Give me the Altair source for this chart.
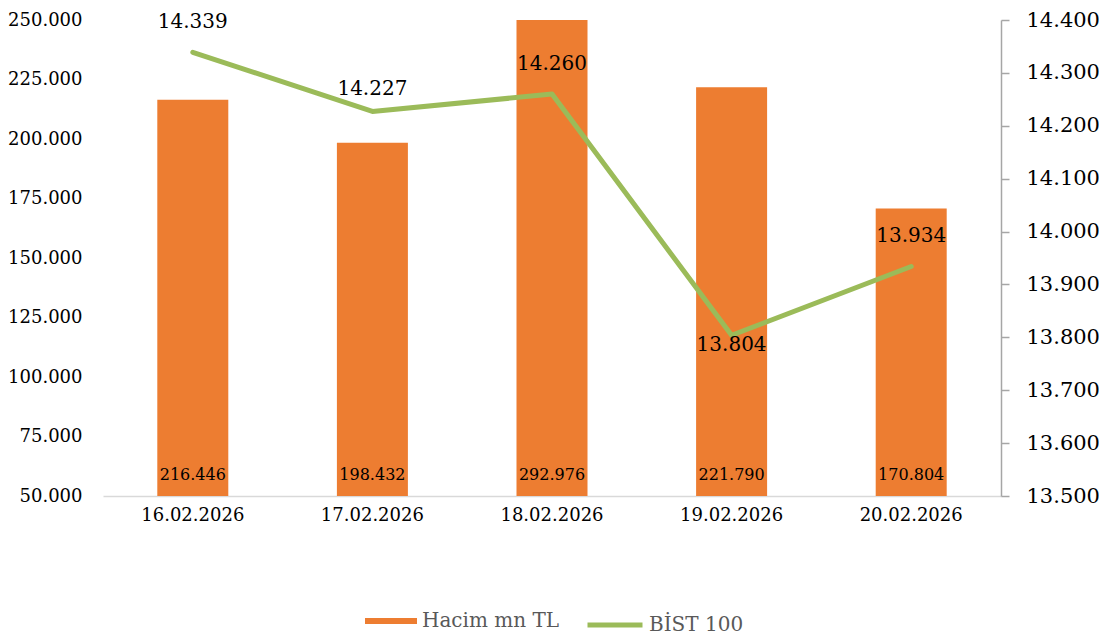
import altair as alt
import pandas as pd

dates = ["16.02.2026", "17.02.2026", "18.02.2026", "19.02.2026", "20.02.2026"]
volume = [216446, 198432, 292976, 221790, 170804]
bist = [14339, 14227, 14260, 13804, 13934]
left_ticks = [50000, 75000, 100000, 125000, 150000, 175000, 200000, 225000, 250000]
right_ticks = [13500, 13600, 13700, 13800, 13900, 14000, 14100, 14200, 14300, 14400]
bar_name = "Hacim mn TL"
line_name = "BİST 100"

ORANGE = "#ED7D31"
GREEN = "#9BBB59"
FONT = "DejaVu Serif"

df = pd.DataFrame({"date": dates, "volume": volume, "bist": bist,
                   "s1": bar_name, "s2": line_name, "base": 50000})

fmt = "replace(format(datum.value, ','), ',', '.')"

x = alt.X("date:N", sort=dates, title=None,
          scale=alt.Scale(paddingInner=0, paddingOuter=0),
          axis=alt.Axis(labelAngle=0, ticks=False, domain=True, domainColor="#D9D9D9",
                        domainWidth=1.5, labelFontSize=18, labelPadding=10,
                        labelColor="#000000", labelFont=FONT))

axisL = alt.Axis(values=left_ticks, labelExpr=fmt, ticks=False, domain=False,
                 grid=False, labelFontSize=18, labelPadding=21,
                 labelColor="#000000", labelFont=FONT, orient="left")
scaleL = alt.Scale(domain=[50000, 250000], zero=False, nice=False)

axisR = alt.Axis(values=right_ticks, labelExpr=fmt, orient="right", grid=False,
                 domainColor="#A6A6A6", tickColor="#A6A6A6", tickSize=8,
                 domainWidth=1.5, tickWidth=1.5,
                 labelFontSize=21, labelPadding=17, labelColor="#000000",
                 labelFont=FONT)
scaleR = alt.Scale(domain=[13500, 14400], zero=False, nice=False)

bars = alt.Chart(df).mark_bar(size=71, clip=True).encode(
    x=x, y=alt.Y("volume:Q", title=None, scale=scaleL, axis=axisL), y2=alt.Y2("base:Q"),
    fill=alt.Fill("s1:N", title=None,
                  scale=alt.Scale(domain=[bar_name], range=[ORANGE]),
                  legend=alt.Legend(orient="none", legendX=262, legendY=575,
                                    symbolType="M-1,-0.115H1V0.115H-1Z", symbolSize=2704,
                                    labelFontSize=20, labelColor="#595959", labelFont=FONT,
                                    symbolStrokeWidth=0, labelOffset=5)),
)

bar_text = alt.Chart(df).transform_calculate(
    lbl="replace(format(datum.volume, ','), ',', '.')"
).mark_text(fontSize=16, font=FONT, dy=-21, baseline="middle", color="#000000").encode(
    x=alt.X("date:N", sort=dates),
    y=alt.Y("base:Q", title=None, scale=scaleL, axis=axisL),
    text="lbl:N",
)

line = alt.Chart(df).mark_line(strokeWidth=5, strokeCap="round", strokeJoin="round").encode(
    x=alt.X("date:N", sort=dates), y=alt.Y("bist:Q", title=None, scale=scaleR, axis=axisR),
    stroke=alt.Stroke("s2:N", title=None,
                      scale=alt.Scale(domain=[line_name], range=[GREEN]),
                      legend=alt.Legend(orient="none", legendX=482, legendY=575,
                                        symbolType="stroke", symbolSize=3025,
                                        symbolStrokeWidth=5,
                                        labelFontSize=20, labelColor="#595959", labelFont=FONT,
                                        labelOffset=4)),
)


def line_labels(sel, dy):
    return alt.Chart(df).transform_filter(
        alt.FieldOneOfPredicate(field="date", oneOf=sel)
    ).transform_calculate(
        lbl="replace(format(datum.bist, ','), ',', '.')"
    ).mark_text(fontSize=20, font=FONT, dy=dy, baseline="middle", color="#000000").encode(
        x=alt.X("date:N", sort=dates),
        y=alt.Y("bist:Q", title=None, scale=scaleR, axis=axisR),
        text="lbl:N")


lt1 = line_labels([dates[0], dates[2], dates[4]], -30)
lt2 = line_labels([dates[1]], -22)
lt3 = line_labels([dates[3]], 10)

left = alt.layer(bars, bar_text)
right = alt.layer(line, lt1, lt2, lt3)

chart = alt.layer(left, right).resolve_scale(y="independent", fill="independent",
                                              stroke="independent").properties(
    width=898, height=476,
    autosize=alt.AutoSizeParams(type="none"),
    padding={"left": 95, "top": 12, "right": 98, "bottom": 140},
).configure_view(stroke=None)

chart.save("out.html", embed_options={"renderer": "svg", "actions": False})
